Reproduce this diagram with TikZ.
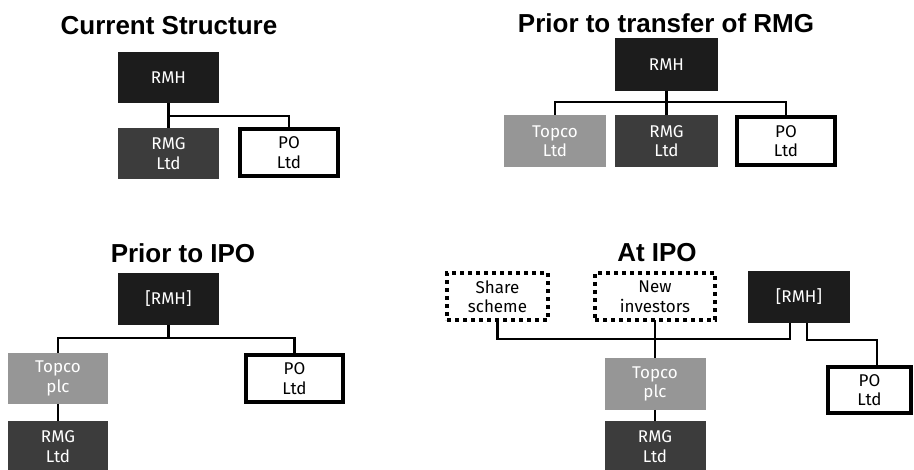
\documentclass[tikz,border=0pt]{standalone}
\usepackage{fontspec}
\setmainfont{Liberation Sans}
\newfontfamily\boxfont{Fira Sans}
\definecolor{rmhcol}{HTML}{1C1C1C}
\definecolor{rmgcol}{HTML}{3C3C3C}
\definecolor{topcol}{HTML}{969696}
\begin{document}
\begin{tikzpicture}[x=1pt,y=-1pt,
  base/.style={inner sep=0pt, outer sep=0pt, align=center, font=\boxfont\fontsize{17}{19.5}\selectfont},
  darkbox/.style={base, fill=rmhcol, text=white, draw=none},
  rmgbox/.style={base, fill=rmgcol, text=white, draw=none},
  topbox/.style={base, fill=topcol, text=white, draw=none},
  pobox/.style={base, fill=white, draw=black, line width=4pt, text=black},
  dotbox/.style={base, fill=white, draw=black, line width=4pt, dash pattern=on 4pt off 4pt, text=black},
  title/.style={font=\bfseries\fontsize{26}{30}\selectfont, inner sep=0pt},
  conn/.style={draw=black, line width=2.5pt}]
\useasboundingbox (0,0) rectangle (914,470);
\fill[white] (0,0) rectangle (914,470);

% Panel 1
\node[title] (t1) at (169,26) {Current Structure};
\node[darkbox, minimum width=101pt, minimum height=51pt] (rmhA) at (168.5,77.5) {RMH};
\node[rmgbox, minimum width=101pt, minimum height=51pt] (rmgA) at (168.5,153.5) {RMG\\Ltd};
\node[pobox, minimum width=98pt, minimum height=47pt] (poA) at (289,152.5) {PO\\Ltd};
\coordinate (jA) at (168.5,116);
\draw[conn] (rmhA.south) -- (jA) -| (poA.north);
\draw[conn] (jA) -- (rmgA.north);

% Panel 2
\node[title] (t2) at (666,23) {Prior to transfer of RMG};
\node[darkbox, minimum width=103pt, minimum height=53pt] (rmhB) at (666.5,64.5) {RMH};
\node[topbox, minimum width=102pt, minimum height=52pt] (topB) at (555,141) {Topco\\Ltd};
\node[rmgbox, minimum width=103pt, minimum height=52pt] (rmgB) at (666.5,141) {RMG\\Ltd};
\node[pobox, minimum width=98pt, minimum height=48pt] (poB) at (786,141) {PO\\Ltd};
\coordinate (jB) at (666.5,102);
\draw[conn] (rmhB.south) -- (jB);
\draw[conn] (topB.north) |- (jB) -| (poB.north);
\draw[conn] (jB) -- (rmgB.north);

% Panel 3
\node[title] (t3) at (183,253) {Prior to IPO};
\node[darkbox, minimum width=101pt, minimum height=52pt] (rmhC) at (168.5,299) {[RMH]};
\node[topbox, minimum width=100pt, minimum height=51pt] (topC) at (58,378.5) {Topco\\plc};
\node[pobox, minimum width=97pt, minimum height=47pt] (poC) at (294.5,378.5) {PO\\Ltd};
\node[rmgbox, minimum width=100pt, minimum height=51pt] (rmgC) at (58,446.5) {RMG\\Ltd};
\coordinate (jC) at (168.5,338);
\draw[conn] (rmhC.south) -- (jC);
\draw[conn] (topC.north) |- (jC) -| (poC.north);
\draw[conn] (topC.south) -- (rmgC.north);

% Panel 4
\node[title] (t4) at (657,253) {At IPO};
\node[dotbox, minimum width=101pt, minimum height=47pt] (share) at (497.5,296.5) {Share\\scheme};
\node[dotbox, minimum width=120pt, minimum height=47pt] (newinv) at (655,296.5) {New\\investors};
\node[darkbox, minimum width=102pt, minimum height=52pt] (rmhD) at (799,297) {[RMH]};
\node[topbox, minimum width=101pt, minimum height=52pt] (topD) at (655,384) {Topco\\plc};
\node[rmgbox, minimum width=101pt, minimum height=51pt] (rmgD) at (655,446.5) {RMG\\Ltd};
\node[pobox, minimum width=83pt, minimum height=46pt] (poD) at (869.5,390) {PO\\Ltd};
\coordinate (jD) at (655,339);
\draw[conn] (share.south) |- (jD);
\draw[conn] (newinv.south) -- (jD) -- (topD.north);
\draw[conn] (jD) -| ([xshift=-9pt]rmhD.south);
\draw[conn] ([xshift=8pt]rmhD.south) -- ++(0,17) -| ([xshift=7.5pt]poD.north);
\draw[conn] (topD.south) -- (rmgD.north);
\end{tikzpicture}
\end{document}
